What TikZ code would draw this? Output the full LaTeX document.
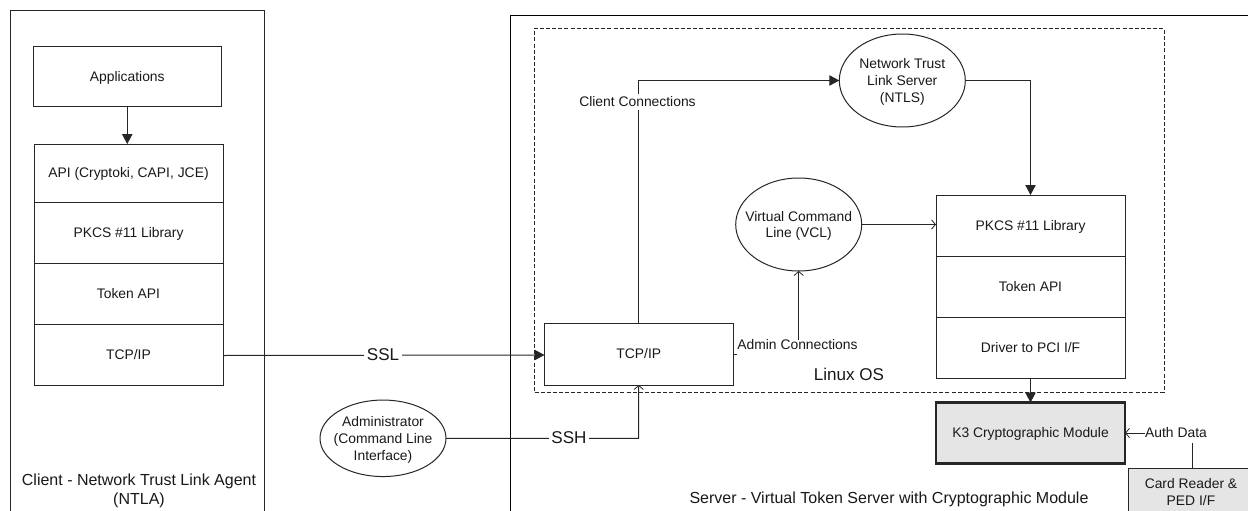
\documentclass[tikz,border=0pt]{standalone}
\usepackage{fontspec}
\setmainfont{Liberation Sans}
\usetikzlibrary{arrows.meta,shapes.geometric}
\tikzset{
  wh/.style 2 args={minimum width=#1*0.75pt,minimum height=#2*0.75pt},
  every node/.style={inner sep=0pt,outer sep=0pt,text=black!90},
  small/.style={font=\fontsize{10.4}{12.6}\selectfont,align=center},
  big/.style={font=\fontsize{12}{14.6}\selectfont,align=center},
  huge lbl/.style={font=\fontsize{12.8}{15}\selectfont},
  boxn/.style={draw=black!85,line width=0.75pt,small,rectangle,text height=7.5pt,text depth=0.4pt},
  ell/.style={draw=black!85,line width=0.75pt,small,ellipse,inner sep=-20pt,text depth=0pt},
  cutout/.style={fill=white,inner xsep=2pt,inner ysep=2pt},
  conn/.style={draw=black!85,line width=0.75pt},
  solidtip/.style={-{Triangle[length=7.5pt,width=7.8pt]}},
  opentip/.style={-{Straight Barb[length=3pt,width=7pt,line width=0.6pt]}},
}
\begin{document}
\begin{tikzpicture}[x=0.75pt,y=-0.75pt]
\useasboundingbox (0,0) rectangle (1248,510);
\clip (0,0) rectangle (1248,510);
\fill[white] (0,0) rectangle (1248,510);
% outer frames (their open ends run off the page)
\node[boxn,wh={253.5}{530},anchor=north west] (client) at (10.5,10.5) {};
\node[draw=black,line width=0.75pt,rectangle,wh={760}{530},anchor=north west] (server) at (510.3,15.3) {};
\node[draw=black!85,line width=0.75pt,dash pattern=on 3pt off 1.6pt,rectangle,wh={629.5}{363.5},anchor=north west] (linux) at (534.5,28.5) {};
% client column
\node[boxn,wh={188.5}{60},anchor=north west] (app) at (33,46.5) {Applications};
\node[boxn,wh={189}{58.5},anchor=north west] (api) at (34,144) {API (Cryptoki, CAPI, JCE)};
\node[boxn,wh={189}{61},anchor=north west] (pkcsL) at (34,202.5) {PKCS \#11 Library};
\node[boxn,wh={189}{61},anchor=north west] (tokenL) at (34,263.5) {Token API};
\node[boxn,wh={189}{60.5},anchor=north west] (tcpL) at (34,324.5) {TCP/IP};
% server items
\node[boxn,wh={188.5}{61.5},anchor=north west] (tcpR) at (544.5,323.5) {TCP/IP};
\node[ell,wh={126}{93}] (ntls) at (902.3,80.5) {Network Trust\\Link Server\\(NTLS)};
\node[ell,wh={126}{93}] (vcl) at (798.7,224.5) {Virtual Command\\Line (VCL)};
\node[ell,wh={126}{76.5}] (admin) at (383,438.3) {Administrator\\(Command Line\\Interface)};
\node[boxn,wh={189}{61},anchor=north west] (pkcsR) at (936,195) {PKCS \#11 Library};
\node[boxn,wh={189}{61},anchor=north west] (tokenR) at (936,256) {Token API};
\node[boxn,wh={189}{61},anchor=north west] (driver) at (936,317) {Driver to PCI I/F};
\node[boxn,fill=black!10,line width=1.6pt,wh={189}{61},anchor=north west] (k3) at (936,402.5) {K3 Cryptographic Module};
\node[draw=black!85,line width=0.75pt,rectangle,fill=black!10,wh={140}{60},anchor=north west] (card) at (1128.5,468) {};
\node[small] (cardtxt) at (1191,492) {Card Reader \&\\PED I/F};
% labels
\node[big] (clientlbl) at (139,490.8) {Client - Network Trust Link Agent\\(NTLA)};
\node[big] (serverlbl) at (889,499.5) {Server - Virtual Token Server with Cryptographic Module};
\node[huge lbl] (linuxlbl) at (849,374) {Linux OS};
\coordinate (sslR) at (544.5,355);
\coordinate (sslL) at (223,355.5);
\coordinate (tcpup) at (638.5,323.5);
\coordinate (bend1) at (638.5,80.5);
\coordinate (bend2) at (1030.5,80.5);
\coordinate (bend3) at (638.5,438.3);
\coordinate (stub) at (736.5,354);
% connectors
\draw[conn,solidtip] (app.south) -- (app.south |- api.north);
\draw[conn,solidtip] (sslL) -- (sslR);
\node[huge lbl,cutout] (ssl) at (383,354.5) {SSL};
\draw[conn,opentip] (admin.east) -- (bend3) -- (tcpR.south);
\node[huge lbl,cutout] (ssh) at (569,438) {SSH};
\draw[conn,solidtip] (tcpup) -- (bend1) -- (ntls.west);
\node[small,cutout] (clientconn) at (637.5,102) {Client Connections};
\draw[conn,solidtip] (ntls.east) -- (bend2) -- (pkcsR.north);
\draw[conn,opentip] (vcl.east) -- (vcl.east -| pkcsR.west);
\draw[conn] (tcpR.east |- stub) -- (stub);
\node[small] (adminconn) at (797.5,345) {Admin Connections};
\draw[conn,opentip] (adminconn.north -| vcl.south) -- (vcl.south);
\draw[conn,solidtip] (driver.south) -- (k3.north);
\node[small] (auth) at (1176,433) {Auth Data};
\draw[conn,opentip] (auth.west) -- (auth.west -| k3.east);
\draw[conn] (1192.3,443) -- (1192.3,468);
\end{tikzpicture}
\end{document}
